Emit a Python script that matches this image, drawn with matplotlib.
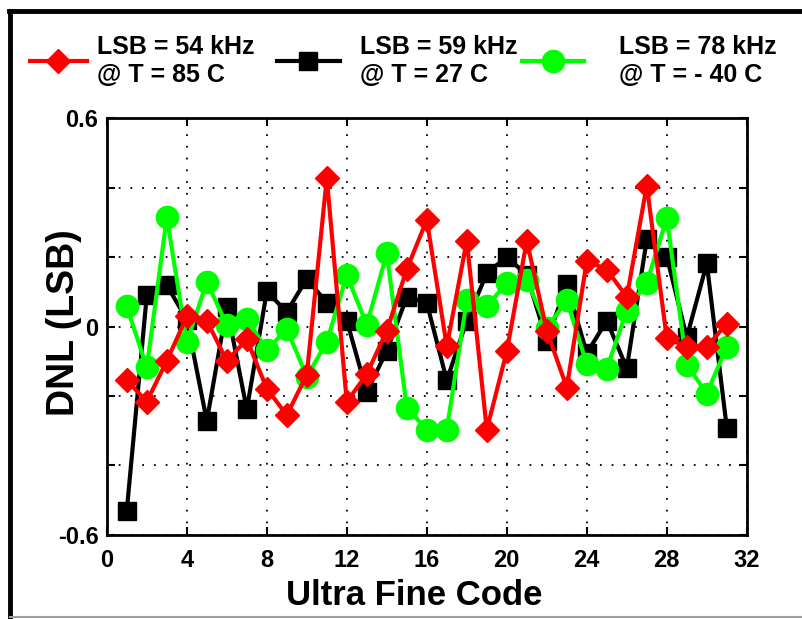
import matplotlib
matplotlib.use("Agg")
import matplotlib.pyplot as plt
from matplotlib.lines import Line2D
import numpy as np

plt.rcParams['font.family'] = ['Liberation Sans', 'DejaVu Sans']
plt.rcParams['font.weight'] = 'bold'

# DNL per ultra fine code
codes = np.arange(1, 32)
dnl_85c = [-0.155, -0.216, -0.099, 0.029, 0.017, -0.099, -0.037, -0.179, -0.255, -0.139,
           0.428, -0.217, -0.137, -0.012, 0.165, 0.307, -0.057, 0.247, -0.297, -0.071,
           0.247, -0.012, -0.176, 0.189, 0.164, 0.085, 0.406, -0.034, -0.058, -0.058, 0.008]
dnl_27c = [-0.530, 0.090, 0.119, 0.020, -0.272, 0.056, -0.239, 0.101, 0.042, 0.138,
           0.068, 0.017, -0.188, -0.070, 0.085, 0.068, -0.155, 0.017, 0.153, 0.201,
           0.148, -0.041, 0.122, -0.077, 0.017, -0.120, 0.251, 0.201, -0.031, 0.182, -0.292]
dnl_m40c = [0.058, -0.118, 0.315, -0.045, 0.128, 0.005, 0.022, -0.068, -0.007, -0.144,
            -0.045, 0.148, 0.005, 0.211, -0.234, -0.297, -0.297, 0.075, 0.058, 0.126,
            0.135, -0.004, 0.075, -0.108, -0.121, 0.046, 0.126, 0.312, -0.110, -0.193, -0.058]

labels = ["LSB = 54 kHz\n@ T = 85 C", "LSB = 59 kHz\n@ T = 27 C", "LSB = 78 kHz\n@ T = - 40 C"]
xticks = np.arange(0, 33, 4)
yticks = [-0.6, -0.4, -0.2, 0, 0.2, 0.4, 0.6]
ytick_labels = ["-0.6", "", "", "0", "", "", "0.6"]

fig = plt.figure(figsize=(8.03, 6.19), dpi=100)
ax = fig.add_axes([0.133, 0.136, 0.797, 0.673])

# black under green under red, like the original
h_blk, = ax.plot(codes, dnl_27c, color='k', lw=3, marker='s', ms=13, mec='k', zorder=3)
h_grn, = ax.plot(codes, dnl_m40c, color='#00ff00', lw=3, marker='o', ms=16, mec='#00ff00', zorder=4)
h_red, = ax.plot(codes, dnl_85c, color='red', lw=3, marker='D', ms=12, mec='red', zorder=5)

ax.set_xlim(0, 32)
ax.set_ylim(-0.6, 0.6)
ax.set_xticks(xticks)
ax.set_yticks(yticks)
ax.set_yticklabels(ytick_labels)
ax.grid(True, color='k', lw=1.3, linestyle=(0, (1, 5.5)))
ax.tick_params(direction='in', length=6, width=1.5, top=True, right=True, labelsize=17)
ax.tick_params(axis='x', pad=10)
ax.tick_params(axis='y', pad=6)
for s in ax.spines.values():
    s.set_linewidth(2)

ax.set_xlabel("Ultra Fine Code", fontsize=25, fontweight='bold')
ax.xaxis.set_label_coords(0.481, -0.105)
ax.set_ylabel("DNL (LSB)", fontsize=27, fontweight='bold', va='center')
ax.yaxis.set_label_coords(-0.067, 0.51)

# one legend per entry so the uneven spacing can be matched
leg_pos = [(0.037, 2.3, 0.4), (0.345, 2.5, 0.8), (0.650, 2.5, 1.4)]
for h, lab, (x0, hl, tp) in zip([h_red, h_blk, h_grn], labels, leg_pos):
    fig.legend([h], [lab], loc='center left', bbox_to_anchor=(x0, 0.902), frameon=False,
               borderpad=0, borderaxespad=0, handlelength=hl, handletextpad=tp,
               prop={'size': 18, 'weight': 'bold'}, labelspacing=0)

# outer frame
fig.add_artist(Line2D([0.013, 0.013], [0.0, 0.983], color='k', lw=3.5, transform=fig.transFigure))
fig.add_artist(Line2D([0.011, 1.0], [0.983, 0.983], color='k', lw=3.5, transform=fig.transFigure))
fig.add_artist(Line2D([0.013, 1.0], [0.003, 0.003], color='#a0a0a0', lw=1.5, transform=fig.transFigure))

fig.savefig("out.png", dpi=100)
